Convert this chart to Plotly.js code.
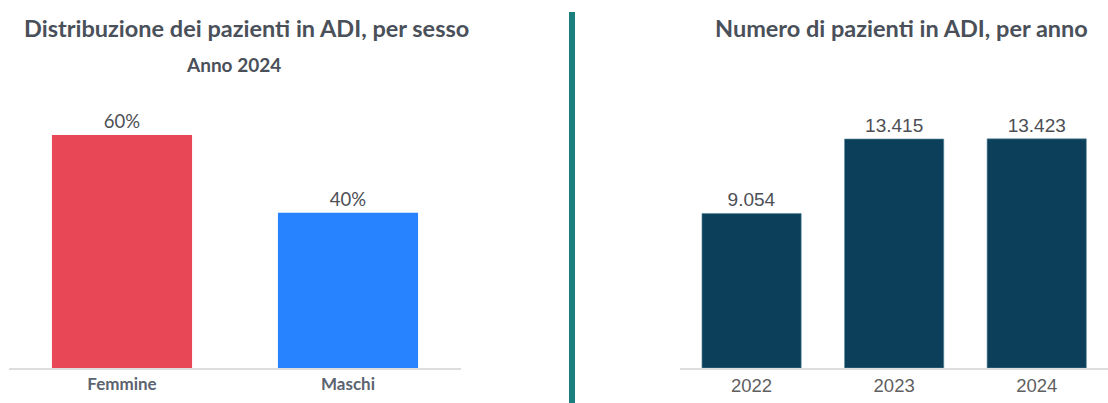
<!DOCTYPE html>
<html>
<head>
<meta charset="utf-8">
<script src="https://cdn.plot.ly/plotly-3.0.1.min.js"></script>
<style>html,body{margin:0;padding:0;background:#fff;}#chart{width:1108px;height:403px;}</style>
</head>
<body>
<div id="chart"></div>
<script>
const sexCategories = ["Femmine", "Maschi"];
const sexShares = [60, 40];
const sexColors = ["#e84855", "#2783ff"];

const years = ["2022", "2023", "2024"];
const patients = [9054, 13415, 13423];

const titleLeft = "Distribuzione dei pazienti in ADI, per sesso";
const subtitleLeft = "Anno 2024";
const titleRight = "Numero di pazienti in ADI, per anno";

const W = 1108, H = 403;
const px = v => v / W;
const py = v => (H - v) / H;

const traces = [
  {
    type: "bar", x: sexCategories, y: sexShares, xaxis: "x", yaxis: "y",
    width: 0.62,
    marker: {color: sexColors},
    text: sexShares.map(v => v + "%"), textposition: "outside",
    textfont: {family: "Lato", size: 18.5, color: "#4d4f55"},
    cliponaxis: false, hoverinfo: "none"
  },
  {
    type: "bar", x: years, y: patients, xaxis: "x2", yaxis: "y2",
    width: 0.696,
    marker: {color: "#0b3f5a", line: {color: "#5b8aa0", width: 0.6}},
    texttemplate: "%{y:,}", textposition: "outside",
    textfont: {family: "Liberation Sans", size: 19, color: "#4d4f55"},
    cliponaxis: false, hoverinfo: "none"
  }
];

const layout = {
  width: W, height: H, autosize: false,
  margin: {l: 0, r: 0, t: 0, b: 0},
  paper_bgcolor: "#fff", plot_bgcolor: "#fff",
  showlegend: false,
  separators: ",.",
  xaxis: {
    domain: [px(9), px(461)], type: "category", range: [-0.5, 1.5],
    showline: true, linecolor: "#dddddd", linewidth: 2,
    ticks: "", showgrid: false, zeroline: false,
    tickfont: {family: "Lato", size: 17, color: "#5b6370", weight: "bold"},
    fixedrange: true
  },
  yaxis: {
    domain: [py(368), py(100)], range: [0, 60 * 268 / 233],
    visible: false, showgrid: false, zeroline: false, fixedrange: true
  },
  xaxis2: {
    domain: [px(680.3), 1], type: "category", range: [-0.5, 2.5],
    showline: true, linecolor: "#dddddd", linewidth: 2,
    ticks: "", showgrid: false, zeroline: false,
    tickfont: {family: "Liberation Sans", size: 18.5, color: "#5f5f5f"},
    fixedrange: true
  },
  yaxis2: {
    domain: [py(368), py(100)], range: [0, 13415 * 268 / 229], anchor: "x2",
    visible: false, showgrid: false, zeroline: false, fixedrange: true
  },
  annotations: [
    {text: titleLeft, xref: "paper", yref: "paper", x: px(246), y: py(28),
     xanchor: "center", yanchor: "middle", showarrow: false,
     font: {family: "Lato", size: 23.5, color: "#4a5059", weight: "bold"}},
    {text: subtitleLeft, xref: "paper", yref: "paper", x: px(233), y: py(64),
     xanchor: "center", yanchor: "middle", showarrow: false,
     font: {family: "Lato", size: 19, color: "#4a5059", weight: "bold"}},
    {text: titleRight, xref: "paper", yref: "paper", x: px(901), y: py(28),
     xanchor: "center", yanchor: "middle", showarrow: false,
     font: {family: "Lato", size: 23.5, color: "#4a5059", weight: "bold"}}
  ],
  shapes: [
    {type: "line", xref: "paper", yref: "paper", x0: px(572), x1: px(572),
     y0: py(12), y1: 0, line: {color: "#1b7f7d", width: 6}}
  ]
};

Plotly.newPlot("chart", traces, layout, {displayModeBar: false, staticPlot: true});
</script>
</body>
</html>
